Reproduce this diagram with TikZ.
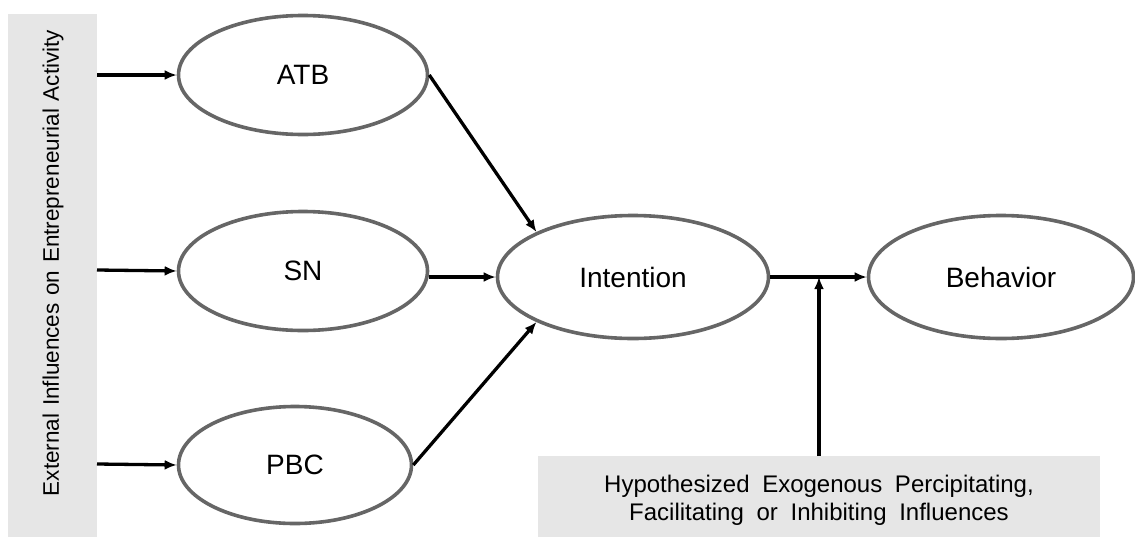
\documentclass[tikz,border=0pt]{standalone}
\usepackage{fontspec}
\setmainfont{Liberation Sans}
\usetikzlibrary{arrows.meta,shapes.geometric}
\definecolor{panelgray}{HTML}{E6E6E6}
\definecolor{rimgray}{HTML}{666666}
% slightly widened gap between words
\newcommand{\wsp}[1]{\ \hspace{#1}}
\begin{document}
\begin{tikzpicture}[x=1pt,y=-1pt,
  construct/.style={ellipse,draw=rimgray,line width=3.6pt,fill=white,inner sep=0pt,
    font=\fontsize{28}{32}\selectfont},
  link/.style={line width=3.3pt,-{Latex[length=12pt,width=10pt]}}]
\useasboundingbox (0,0) rectangle (1135,536);
% side panel with the external influences
\fill[panelgray] (8,14) rectangle (97,540);
\node[rotate=90,font=\fontsize{22.5}{24}\selectfont] (ext) at (53,263)
  {External\wsp{1.5pt}Influences\wsp{1.5pt}on\wsp{1.5pt}Entrepreneurial\wsp{1.5pt}Activity};
\coordinate (e1) at (97,75);
\coordinate (e2) at (97,270);
\coordinate (e3) at (97,464);
% theory of planned behaviour constructs
\node[construct,minimum width=249pt,minimum height=119pt] (atb) at (303,75) {ATB};
\node[construct,minimum width=249pt,minimum height=119pt] (sn) at (303,271) {SN};
\node[construct,minimum width=233pt,minimum height=117pt] (pbc) at (295,465) {PBC};
\node[construct,minimum width=271pt,minimum height=123pt] (int) at (633,277) {Intention};
\node[construct,minimum width=265pt,minimum height=123pt] (beh) at (1001,277) {Behavior};
% bottom panel with the moderating influences
\node[fill=panelgray,minimum width=562pt,minimum height=90pt,anchor=north] (mod) at (819,456) {};
\node[align=center,font=\fontsize{24}{28}\selectfont,inner sep=0pt] (modtext) at (819,500)
  {Hypothesized\wsp{6pt}Exogenous\wsp{6pt}Percipitating,\\
   Facilitating\wsp{6pt}or\wsp{6pt}Inhibiting\wsp{6pt}Influences};
% connectors
\draw[link] (e1) -- (atb.west);
\draw[link] (e2) -- (sn.west);
\draw[link] (e3) -- (pbc.west);
\draw[link] (atb.east) -- (int.155);
\draw[link] (sn.east |- int.west) -- (int.west);
\draw[link] (pbc.east) -- (int.205);
\draw[link] (int.east) -- (beh.west);
\draw[link] (mod.north) -- (mod.north |- int.east);
\end{tikzpicture}
\end{document}
